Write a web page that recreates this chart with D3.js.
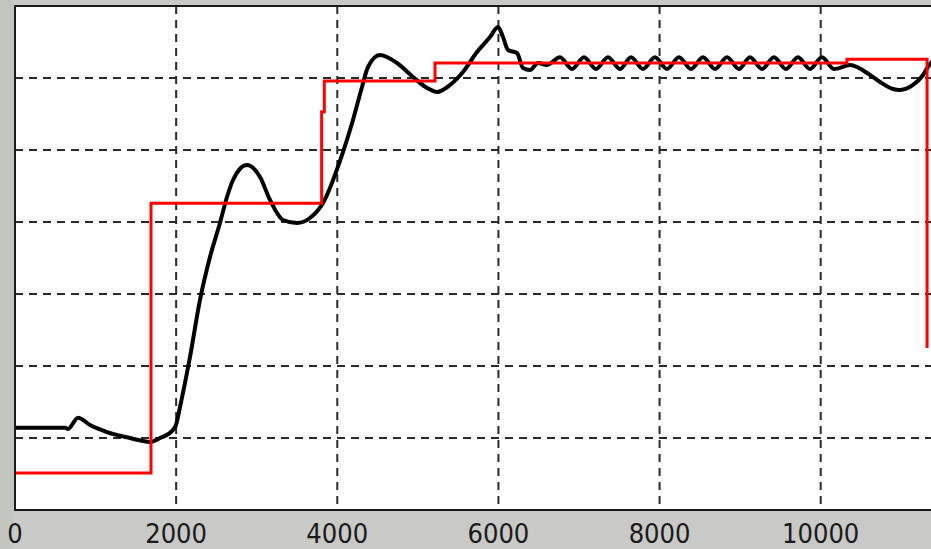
<!DOCTYPE html>
<html>
<head>
<meta charset="utf-8">
<script src="https://cdn.jsdelivr.net/npm/d3@7"></script>
<style>
  html, body { margin: 0; padding: 0; background: #c8c8c8; }
  .tick-label { font-family: "Liberation Sans Narrow", "Arial Narrow", "DejaVu Sans Condensed", sans-serif; font-size: 27px; fill: #1a1a1a; }
</style>
</head>
<body>
<div id="chart"></div>
<script>
// x ticks (time) and horizontal grid levels
const xTicks = [0, 2000, 4000, 6000, 8000, 10000];
const yGrid = [1, 2, 3, 4, 5, 6];

// reference signal (red step line)
const refTime  = [0, 1688, 3806, 3839, 5213, 10326, 11320];
const refValue = [0.514, 4.26, 5.53, 5.96, 6.21, 6.26, 2.25];

// measured response (black line)
const respTime = [0, 621, 658, 782, 931, 1142, 1427, 1638, 1676, 1800, 1961, 1998,
  2048, 2172, 2296, 2420, 2544, 2631, 2706, 2879, 3041, 3165, 3326, 3500, 3661, 3823,
  4059, 4195, 4307, 4381, 4530, 4741, 4940, 5114, 5238, 5399, 5560, 5734, 5896, 5995,
  6057, 6119, 6231, 6305, 6392, 6491, 6603,
  6764, 6913, 7062, 7211, 7360, 7509, 7646, 7794, 7943, 8092, 8241, 8390, 8539, 8688,
  8837, 8986, 9122, 9272, 9420, 9569, 9718, 9867, 10016, 10165,
  10364, 10612, 10736, 10897, 10984, 11146, 11270, 11332, 11400];
const respValue = [1.143, 1.143, 1.125, 1.282, 1.181, 1.083, 1.0, 0.949, 0.944, 1.0, 1.111, 1.181,
  1.431, 2.125, 2.917, 3.514, 3.986, 4.347, 4.583, 4.792, 4.625, 4.306, 4.028, 3.986, 4.056, 4.264,
  4.931, 5.417, 5.875, 6.153, 6.319, 6.208, 6.014, 5.861, 5.806, 5.903, 6.083, 6.361, 6.569, 6.708,
  6.569, 6.389, 6.347, 6.139, 6.111, 6.208, 6.181,
  6.288, 6.125, 6.288, 6.125, 6.288, 6.125, 6.288, 6.125, 6.288, 6.125, 6.288, 6.125, 6.288, 6.125,
  6.288, 6.125, 6.288, 6.125, 6.288, 6.125, 6.288, 6.125, 6.288, 6.125,
  6.18, 6.042, 5.944, 5.847, 5.833, 5.903, 6.042, 6.153, 6.25];

let svg = null, x = null, y = null;
const W = 931, H = 549;
const plot = {left: 15, top: 6, bottom: 510, right: 934};

renderChart();

function renderChart() {
  svg = d3.select("#chart").append("svg")
    .attr("width", W)
    .attr("height", H);

  x = d3.scaleLinear().domain([0, 10000]).range([plot.left, 820.7]);
  y = d3.scaleLinear().domain([0, 7]).range([plot.bottom, plot.top]);

  appendBackground();
  appendGrid();
  appendLines();
  appendFrame();
  appendXLabels();
}

/**
 * gray window background and white plot area
 */
function appendBackground() {
  svg.append("rect").attr("width", W).attr("height", H).attr("fill", "#c9c9c8");
  svg.append("rect").attr("width", 13).attr("height", H).attr("fill", "#c2c6be");
  svg.append("rect")
    .attr("x", plot.left).attr("y", plot.top)
    .attr("width", plot.right - plot.left).attr("height", plot.bottom - plot.top)
    .attr("fill", "#fff");
}

function appendGrid() {
  let grid = svg.append("g").attr("class", "grid")
    .attr("stroke", "#2a2a2a")
    .attr("stroke-width", 2)
    .attr("stroke-dasharray", "8,6");

  grid.selectAll("line.h").data(yGrid).enter().append("line")
    .attr("class", "h")
    .attr("x1", plot.left).attr("x2", plot.right)
    .attr("y1", d => y(d)).attr("y2", d => y(d));

  grid.selectAll("line.v").data(xTicks.filter(d => d > 0)).enter().append("line")
    .attr("class", "v")
    .attr("x1", d => x(d)).attr("x2", d => x(d))
    .attr("y1", plot.top).attr("y2", plot.bottom);
}

function appendLines() {
  svg.append("clipPath").attr("id", "plotClip")
    .append("rect")
    .attr("x", plot.left).attr("y", plot.top)
    .attr("width", plot.right - plot.left).attr("height", plot.bottom - plot.top);

  let g = svg.append("g").attr("clip-path", "url(#plotClip)");

  let resp = respTime.map((t, i) => ({t: t, v: respValue[i]}));
  let ref = refTime.map((t, i) => ({t: t, v: refValue[i]}));

  let smooth = d3.line()
    .x(d => x(d.t))
    .y(d => y(d.v))
    .curve(d3.curveMonotoneX);

  let step = d3.line()
    .x(d => x(d.t))
    .y(d => y(d.v))
    .curve(d3.curveStepAfter);

  g.append("path")
    .datum(resp)
    .attr("fill", "none")
    .attr("stroke", "#000")
    .attr("stroke-width", 4)
    .attr("stroke-linejoin", "round")
    .attr("d", smooth);

  g.append("path")
    .datum(ref)
    .attr("fill", "none")
    .attr("stroke", "#ff0000")
    .attr("stroke-width", 3)
    .attr("d", step);
}

function appendFrame() {
  let f = svg.append("g").attr("stroke", "#1a1a1a").attr("stroke-width", 2);
  f.append("line").attr("x1", plot.left - 1).attr("x2", W).attr("y1", plot.top).attr("y2", plot.top);
  f.append("line").attr("x1", plot.left).attr("x2", plot.left).attr("y1", plot.top).attr("y2", plot.bottom + 1);
  f.append("line").attr("x1", plot.left - 1).attr("x2", W).attr("y1", plot.bottom).attr("y2", plot.bottom);
}

function appendXLabels() {
  svg.append("g").selectAll("text")
    .data(xTicks)
    .enter().append("text")
    .attr("class", "tick-label")
    .attr("x", d => x(d))
    .attr("y", 543)
    .attr("text-anchor", "middle")
    .text(d => d);
}
</script>
</body>
</html>
